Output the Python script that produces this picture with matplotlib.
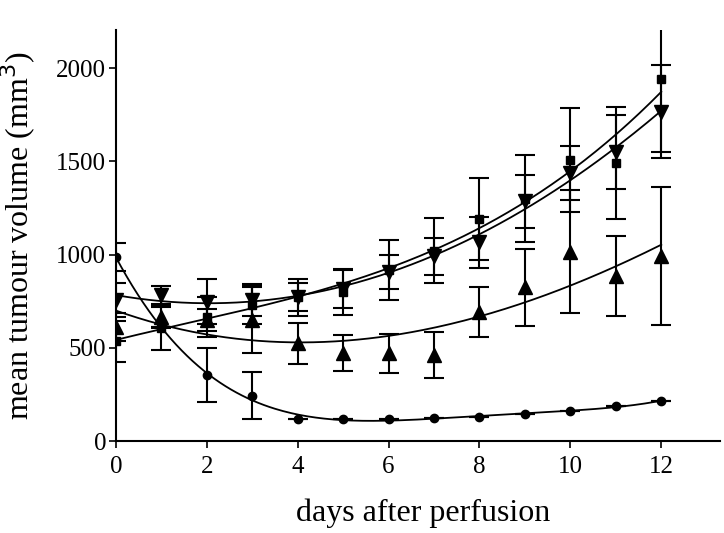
import numpy as np
import matplotlib
matplotlib.use("Agg")
import matplotlib.pyplot as plt

plt.rcParams['font.family'] = ['Liberation Serif', 'DejaVu Serif']

days = np.arange(0, 13)

# filled circles
circ = [987, 610, 354, 243, 118, 116, 116, 125, 127, 145, 162, 189, 213]
circ_err = [75, 0, 143, 125, 0, 0, 0, 0, 0, 0, 0, 0, 0]

# filled squares
sq = [535, 604, 667, 729, 770, 800, 917, 1020, 1190, 1300, 1507, 1489, 1941]
sq_err = [110, 115, 107, 100, 75, 125, 160, 175, 220, 235, 280, 300, 390]

# downward triangles
tdn = [756, 783, 747, 756, 770, 815, 905, 990, 1065, 1285, 1435, 1551, 1766]
tdn_err = [90, 50, 120, 85, 100, 100, 90, 100, 135, 140, 145, 200, 250]

# upward triangles
tup = [610, 667, 650, 648, 524, 470, 470, 461, 694, 824, 1015, 885, 990]
tup_err = [75, 60, 60, 178, 110, 97, 105, 122, 134, 207, 331, 216, 370]

fig = plt.figure(figsize=(7.24, 5.33), dpi=100)
ax = fig.add_axes([0.160, 0.1726, 0.835, 0.771])

xs = np.linspace(0, 12, 200)
for y, e, m, ms in [(circ, circ_err, 'o', 6), (sq, sq_err, 's', 6),
                    (tdn, tdn_err, 'v', 10), (tup, tup_err, '^', 10)]:
    coef = np.polyfit(days, y, 3 if m != 'o' else 4)
    ax.plot(xs, np.polyval(coef, xs), color='black', lw=1.3)
    ax.errorbar(days, y, yerr=e, fmt=m, color='black', ms=ms,
                capsize=7, elinewidth=1.5, capthick=1.5)

ax.set_xlim(0, 13.3)
ax.set_ylim(0, 2204)
ax.set_xticks([0, 2, 4, 6, 8, 10, 12])
ax.set_yticks([0, 500, 1000, 1500, 2000])
ax.spines['top'].set_visible(False)
ax.spines['right'].set_visible(False)
ax.spines['left'].set_linewidth(1.5)
ax.spines['bottom'].set_linewidth(1.5)
ax.tick_params(direction='out', length=5, width=1.2, labelsize=18)
ax.tick_params(axis='x', pad=6)
ax.tick_params(axis='y', pad=2)
ax.set_xlabel('days after perfusion', fontsize=23)
ax.set_ylabel('mean tumour volume (mm$^3$)', fontsize=23)
ax.xaxis.set_label_coords(0.508, -0.14)
ax.yaxis.set_label_coords(-0.128, 0.5)

fig.savefig('out.png', dpi=100)
